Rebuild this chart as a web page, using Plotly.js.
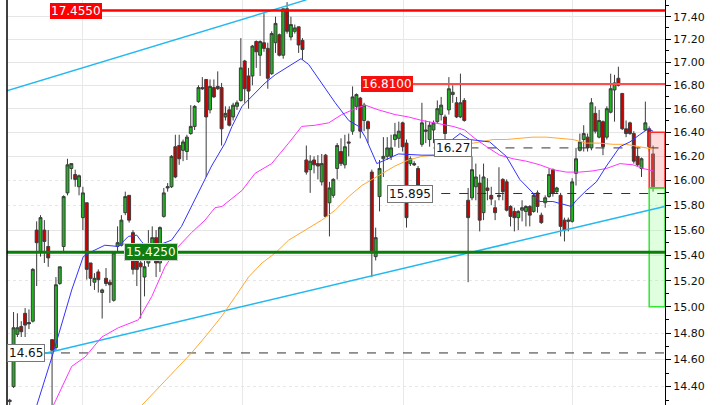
<!DOCTYPE html>
<html>
<head>
<meta charset="utf-8">
<script src="https://cdn.plot.ly/plotly-3.0.1.min.js"></script>
<style>
html,body{margin:0;padding:0;background:#fff;}
#chart{width:720px;height:405px;}
</style>
</head>
<body>
<div id="chart"></div>
<script>
// ---- candle data ----
const openP = [14.29,14.40,14.79,14.85,14.95,14.88,14.89,15.60,15.43,15.60,15.47,14.75,14.69,15.18,15.47,15.90,16.10,16.05,15.95,15.70,
15.82,15.34,15.19,15.27,15.11,15.22,15.19,15.05,15.47,15.48,15.74,15.88,15.58,15.42,15.34,15.23,15.34,15.46,15.54,15.34,
15.71,15.94,15.95,16.28,16.29,16.25,16.24,16.39,16.45,16.66,16.78,16.85,16.59,16.78,16.79,16.78,16.53,16.59,16.53,16.62,
16.67,17.01,16.88,16.88,17.18,17.06,17.17,17.12,16.90,17.17,17.24,17.06,17.47,17.22,17.27,17.31,17.19,16.17,16.09,16.17,
16.14,15.99,16.21,15.82,15.88,16.10,16.24,16.13,16.32,16.41,16.62,16.69,16.50,16.49,16.07,15.39,15.87,16.18,16.20,16.20,
16.34,16.35,16.48,16.31,16.14,16.14,16.10,16.30,16.42,16.34,16.42,16.49,16.55,16.53,16.59,16.72,16.65,16.53,16.67,15.84,
15.86,15.95,15.98,15.74,15.94,15.88,15.78,15.87,16.01,15.99,15.79,15.75,15.70,15.76,15.75,15.79,15.75,15.90,15.72,15.82,
15.87,16.09,15.91,15.88,15.68,15.67,15.67,16.06,16.25,16.34,16.36,16.27,16.56,16.36,16.49,16.36,16.57,16.76,16.86,16.73,
16.43,16.48,16.39,16.20,16.10,16.42,16.43,16.22];
const highP = [14.31,14.96,14.95,14.89,14.99,14.98,15.30,15.67,15.72,15.68,15.60,14.75,15.23,15.31,15.88,16.18,16.14,16.09,16.05,15.95,
15.82,15.34,15.26,15.29,15.14,15.30,15.21,15.43,15.63,15.72,15.91,15.88,15.60,15.42,15.36,15.39,15.60,15.63,15.60,15.63,
15.94,15.98,16.21,16.38,16.38,16.34,16.38,16.63,16.63,16.80,16.87,16.85,16.85,16.85,16.92,16.82,16.62,16.62,16.65,16.67,
17.21,17.02,16.95,17.15,17.19,17.19,17.43,17.17,17.27,17.40,17.25,17.47,17.53,17.40,17.33,17.31,17.21,16.29,16.21,16.20,
16.21,16.22,16.22,15.99,16.02,16.31,16.35,16.38,16.39,16.79,16.73,16.70,16.65,16.50,16.09,15.62,16.17,16.36,16.36,16.38,
16.48,16.49,16.49,16.34,16.20,16.16,16.12,16.65,16.50,16.49,16.50,16.67,16.70,16.55,16.87,16.80,16.70,16.90,16.69,15.94,
16.20,16.14,16.05,16.14,16.02,15.95,15.84,16.11,16.02,16.01,15.80,15.78,15.76,15.84,15.80,15.80,15.90,15.92,15.74,15.88,
16.10,16.10,15.95,15.90,15.70,15.70,16.02,16.27,16.39,16.46,16.39,16.69,16.62,16.59,16.50,16.62,16.90,16.89,16.96,16.73,
16.50,16.49,16.41,16.27,16.19,16.66,16.45,16.29];
const lowP = [14.26,14.39,14.77,14.77,14.77,14.83,14.88,15.16,15.39,15.34,15.31,14.25,14.67,15.17,15.43,15.88,16.01,15.95,15.88,15.60,
15.21,15.16,15.13,15.11,14.91,15.16,15.03,15.04,15.42,15.47,15.72,15.66,15.25,15.16,14.91,15.08,15.31,15.42,15.23,15.27,
15.70,15.91,15.94,16.02,16.13,16.16,16.17,16.38,16.42,16.65,16.76,16.03,16.56,16.69,16.76,16.29,16.50,16.45,16.50,16.59,
16.66,16.65,16.60,16.80,16.95,16.88,17.09,16.77,16.89,17.08,17.05,17.03,17.25,17.19,17.25,17.08,17.02,16.05,15.90,16.06,
16.01,15.96,15.71,15.55,15.86,16.01,16.12,16.10,16.20,16.38,16.59,16.35,16.41,16.31,15.23,15.36,15.75,16.03,16.17,16.17,
16.28,16.27,16.24,15.62,16.12,16.12,15.96,16.28,16.31,16.28,16.31,16.48,16.50,16.34,16.55,16.65,16.52,16.52,16.49,15.19,
15.84,15.84,15.59,15.68,15.84,15.80,15.68,15.84,15.84,15.75,15.63,15.59,15.60,15.67,15.63,15.63,15.74,15.74,15.65,15.78,
15.86,15.87,15.90,15.55,15.51,15.59,15.66,15.96,16.24,16.24,16.24,16.25,16.39,16.35,16.21,16.34,16.56,16.49,16.79,16.42,
16.36,16.38,16.14,16.12,16.03,16.41,16.24,15.91];
const closeP = [14.30,14.84,14.84,14.81,14.86,14.87,15.29,15.50,15.70,15.51,15.38,14.67,15.17,15.31,15.87,16.13,16.14,16.01,16.04,15.90,
15.29,15.22,15.22,15.21,15.13,15.18,15.17,15.42,15.50,15.68,15.87,15.68,15.29,15.29,15.31,15.31,15.47,15.54,15.34,15.62,
15.90,15.95,16.20,16.03,16.18,16.32,16.36,16.45,16.62,16.78,16.77,16.53,16.79,16.70,16.77,16.43,16.56,16.46,16.63,16.65,
16.95,16.77,16.75,17.14,17.09,17.18,17.12,16.86,17.25,17.34,17.06,17.47,17.27,17.33,17.30,17.15,17.11,16.07,16.16,16.13,
16.12,16.14,15.71,15.94,16.01,16.29,16.14,16.28,16.31,16.70,16.72,16.41,16.63,16.43,15.42,15.54,16.10,16.20,16.27,16.27,
16.38,16.41,16.28,15.70,16.18,16.13,15.96,16.48,16.41,16.46,16.48,16.60,16.63,16.39,16.77,16.74,16.53,16.65,16.50,15.70,
16.09,16.03,15.68,16.03,15.92,15.85,15.74,15.88,15.91,15.76,15.71,15.70,15.75,15.78,15.79,15.72,15.88,15.79,15.66,15.86,
16.05,15.90,15.94,15.63,15.60,15.68,15.99,16.18,16.32,16.39,16.27,16.65,16.41,16.50,16.28,16.60,16.77,16.82,16.80,16.43,
16.39,16.39,16.16,16.13,16.18,16.48,16.28,15.95];
const barIndex = openP.map((_, i) => i);

// ---- moving averages (read at sample bars) ----
const maBlueX = [7.0,11.3,16.1,19.1,21.3,24.7,28.2,30.8,33,34.2,36,42,44.6,47.2,50.7,52.4,55.9,57.7,60.3,63.7,66.3,68.9,72.4,75.6,77.6,81,84.5,88,90.6,92.3,95.3,97.5,100.9,107,111.3,114.5,116.9,119.4,124.6,128.9,132.4,135.8,137.6,141,145.8,147.1,149.7,152.3,154.9,158.4,161,163.5,165.7,167];
const maBlueY = [14.26,14.65,15.13,15.39,15.43,15.48,15.47,15.55,15.56,15.51,15.45,15.52,15.63,15.79,16.01,16.12,16.31,16.45,16.62,16.73,16.82,16.89,16.96,17.03,16.98,16.82,16.65,16.50,16.45,16.36,16.14,16.17,16.22,16.21,16.21,16.33,16.39,16.34,16.32,16.20,16.01,15.90,15.83,15.83,15.79,15.84,15.92,15.99,16.12,16.28,16.32,16.38,16.43,16.41];
const maPinkX = [11.3,16.1,19.6,23.9,28.2,33.4,36.9,40.3,43.8,47.2,50.7,53.3,55.1,60.3,63.7,68,72.4,75.8,79.3,82.8,86.2,89.7,92.3,95.7,100,103.5,107,110.4,115.1,118.1,120.3,123.8,127.2,130.7,134.1,137.6,141,144.5,148,151.4,154.9,158.4,161.8,164.4,167];
const maPinkY = [14.26,14.55,14.62,14.77,14.84,14.90,15.08,15.31,15.47,15.58,15.68,15.78,15.79,15.92,16.06,16.14,16.31,16.45,16.46,16.48,16.55,16.60,16.63,16.59,16.55,16.53,16.50,16.48,16.45,16.42,16.36,16.28,16.21,16.18,16.16,16.13,16.09,16.07,16.07,16.08,16.10,16.14,16.13,16.10,16.08];
const maOrangeX = [34.2,38.6,43.8,47.2,50.7,54.1,55.1,58.6,62,65.5,69,72.4,76.7,81,84.5,88,91.4,94,96.6,100,103.5,107,110.4,111.6,115.1,118.5,122,125.5,128.9,132.4,135.8,139.3,142.7,146.2,149.7,153.1,156.6,160,163.5,167];
const maOrangeY = [14.26,14.39,14.55,14.65,14.77,14.90,14.93,15.08,15.23,15.34,15.42,15.52,15.60,15.68,15.76,15.87,15.96,16.01,16.06,16.12,16.17,16.20,16.21,16.25,16.28,16.30,16.32,16.34,16.34,16.35,16.36,16.36,16.35,16.34,16.31,16.31,16.30,16.30,16.28,16.26];

// ---- trend lines and levels ----
const trendUpperX = [-2, 77], trendUpperY = [16.74, 17.55];
const trendLowerX = [0.8, 170], trendLowerY = [14.59, 15.79];
const levelHigh = 17.455, levelMid = 16.81, levelLow = 15.425;
const dashLevels = [14.65, 16.27, 15.895];
const dashLabels = ['14.65', '16.27', '15.895'];
const boxTop = 16.40, boxMid = 15.94, boxBottom = 15.00;
const tickVals = [14.4,14.6,14.8,15.0,15.2,15.4,15.6,15.8,16.0,16.2,16.4,16.6,16.8,17.0,17.2,17.4];
const tickText = tickVals.map(v => v.toFixed(2));
const minorVals = [14.3,14.5,14.7,14.9,15.1,15.3,15.5,15.7,15.9,16.1,16.3,16.5,16.7,16.9,17.1,17.3,17.5];
const dottedGrid = [14.4,14.8,15.2,15.8,16.0];
const solidGrid = [14.6,15.0,15.4,15.6,16.2,16.4,16.6,16.8,17.0,17.2,17.4];
const vGrid = [19.0, 60.5, 102.3, 146.2];

const X0 = -0.7, X1 = 170.1;
const noHover = {hoverinfo: 'skip', showlegend: false};
function line(x, y, color, width, dash) {
  return Object.assign({type: 'scatter', mode: 'lines', x: x, y: y,
    line: {color: color, width: width, dash: dash || 'solid'}}, noHover);
}

const traces = [];
// rectangles at the right
traces.push(Object.assign({type:'scatter', mode:'lines', x:[166,X1,X1,166,166], y:[boxTop,boxTop,boxMid,boxMid,boxTop],
  fill:'toself', fillcolor:'rgba(255,150,150,0.35)', line:{color:'#ff2a2a', width:1.5}}, noHover));
traces.push(Object.assign({type:'scatter', mode:'lines', x:[166,X1,X1,166,166], y:[boxMid,boxMid,boxBottom,boxBottom,boxMid],
  fill:'toself', fillcolor:'rgba(150,255,150,0.3)', line:{color:'#33e633', width:1.5}}, noHover));
// dashed levels
traces.push(line([X0, X1], [dashLevels[0], dashLevels[0]], '#333', 1, 'dash'));
traces.push(line([110, X1], [dashLevels[1], dashLevels[1]], '#333', 1, 'dash'));
traces.push(line([98, X1], [dashLevels[2], dashLevels[2]], '#333', 1, 'dash'));
// trend lines
traces.push(line(trendUpperX, trendUpperY, '#22b8f0', 1.5));
traces.push(line(trendLowerX, trendLowerY, '#22b8f0', 1.5));
// moving averages
traces.push(line(maOrangeX, maOrangeY, '#ffa833', 1));
traces.push(line(maPinkX, maPinkY, '#ff33ff', 1));
traces.push(line(maBlueX, maBlueY, '#3333ff', 1));
// candles
traces.push({type:'candlestick', x: barIndex, open: openP, high: highP, low: lowP, close: closeP,
  increasing: {fillcolor:'#1fb41f', line:{color:'#3c3c3c', width:1}},
  decreasing: {fillcolor:'#c80000', line:{color:'#3c3c3c', width:1}},
  whiskerwidth: 0, hoverinfo:'skip', showlegend:false});
// horizontal levels
traces.push(line([10.5, X1], [levelHigh, levelHigh], '#ff0000', 2.5));
traces.push(line([91.4, X1], [levelMid, levelMid], '#ff4d4d', 2));
traces.push(line([X0, X1], [levelLow, levelLow], '#0a7d0a', 3));

const L = Math.log10;
const fnt = {family: 'DejaVu Sans, Verdana, sans-serif', size: 12};
const annotations = [
  {x: 17.1, y: L(levelHigh), text: '17.4550', bgcolor:'#ff0000', font: Object.assign({}, fnt, {color:'#fff'})},
  {x: 98.0, y: L(levelMid), text: '16.8100', bgcolor:'#f50f0f', font: Object.assign({}, fnt, {color:'#fff'})},
  {x: 36.7, y: L(levelLow), text: '15.4250', bgcolor:'#0f7d0f', bordercolor:'#cfcfcf', font: Object.assign({}, fnt, {color:'#fff'})},
  {x: 4.2, y: L(dashLevels[0]), text: dashLabels[0], bgcolor:'#fff', bordercolor:'#777', font: Object.assign({}, fnt, {color:'#111'})},
  {x: 115.0, y: L(dashLevels[1]), text: dashLabels[1], bgcolor:'#fff', bordercolor:'#777', font: Object.assign({}, fnt, {color:'#111'})},
  {x: 103.8, y: L(dashLevels[2]), text: dashLabels[2], bgcolor:'#fff', bordercolor:'#777', font: Object.assign({}, fnt, {color:'#111'})}
].map(a => Object.assign({xref:'x', yref:'y', showarrow:false, borderpad:1, borderwidth: a.bordercolor ? 1 : 0}, a));

const gridAxis = (vals, dash) => ({type:'log', overlaying:'y', side:'right', range:[L(14.265), L(17.549)],
  tickmode:'array', tickvals: vals, showticklabels:false, ticks:'', showgrid:true, gridcolor:'#e6e6e6',
  griddash: dash, gridwidth:1, zeroline:false, showline:false, fixedrange:true});

const layout = {
  width: 720, height: 405,
  margin: {l: 7, r: 55, t: 0, b: 0, pad: 0},
  paper_bgcolor: '#ffffff', plot_bgcolor: '#ffffff',
  showlegend: false,
  boxgap: 0.24, boxgroupgap: 0,
  xaxis: {range: [X0, X1], showticklabels: false, ticks: '', zeroline: false,
    tickmode: 'array', tickvals: vGrid, showgrid: true, gridcolor: '#e9e9e9', gridwidth: 1,
    rangeslider: {visible: false}, showline: false, fixedrange: true},
  yaxis: {type: 'log', side: 'right', range: [L(14.265), L(17.549)],
    tickmode: 'array', tickvals: tickVals, ticktext: tickText,
    showgrid: false, zeroline: false,
    showline: true, linecolor: '#000', linewidth: 1,
    ticks: 'outside', ticklen: 5, tickcolor: '#000', tickwidth: 1,
    tickfont: {family: 'DejaVu Sans, Verdana, sans-serif', size: 11, color: '#111'},
    minor: {tickmode: 'array', tickvals: minorVals, ticks: 'outside', ticklen: 3, tickcolor: '#000', showgrid: false},
    fixedrange: true},
  yaxis2: gridAxis(solidGrid, 'solid'),
  yaxis3: gridAxis(dottedGrid, 'dot'),
  shapes: [{type:'line', xref:'paper', yref:'paper', x0:0, x1:0, y0:0, y1:1, line:{color:'#000', width:1.5}}],
  annotations: annotations
};
// empty traces to realise the grid-only axes
traces.unshift(Object.assign({type:'scatter', x:[], y:[], yaxis:'y2'}, noHover));
traces.unshift(Object.assign({type:'scatter', x:[], y:[], yaxis:'y3'}, noHover));

Plotly.newPlot('chart', traces, layout, {displayModeBar: false, staticPlot: true});
</script>
</body>
</html>
